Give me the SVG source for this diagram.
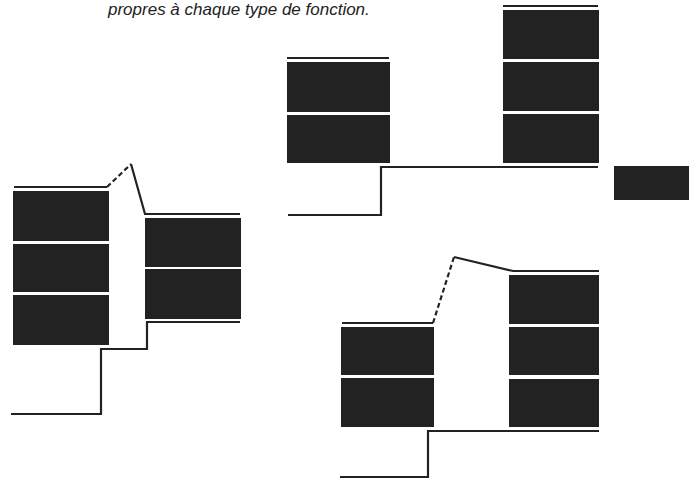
<svg xmlns="http://www.w3.org/2000/svg" width="695" height="479" viewBox="0 0 695 479">
<style>
.blk{fill:#222}
.ln{fill:none;stroke:#222;stroke-width:2.2;stroke-linejoin:miter}
.ds{fill:none;stroke:#222;stroke-width:2.2;stroke-dasharray:5 3}
.cap{font-family:"Liberation Sans",Arial,sans-serif;font-style:italic;font-size:17px;fill:#222}
</style>
<rect width="695" height="479" fill="#fff"/>
<text class="cap" x="108" y="14.5">propres à chaque type de fonction.</text>
<g id="stack-a">
<rect class="blk" x="13" y="191" width="96" height="50"/>
<rect class="blk" x="13" y="244" width="96" height="48"/>
<rect class="blk" x="13" y="295" width="96" height="50"/>
</g>
<g id="stack-b">
<rect class="blk" x="145" y="218" width="96" height="49"/>
<rect class="blk" x="145" y="269" width="96" height="50"/>
</g>
<g id="stack-c">
<rect class="blk" x="287" y="62" width="103" height="50"/>
<rect class="blk" x="287" y="115" width="103" height="48"/>
</g>
<g id="stack-d">
<rect class="blk" x="503" y="10" width="96" height="49"/>
<rect class="blk" x="503" y="62" width="96" height="49"/>
<rect class="blk" x="503" y="114" width="96" height="49"/>
</g>
<g id="stack-e">
<rect class="blk" x="341" y="327" width="93" height="48"/>
<rect class="blk" x="341" y="378" width="93" height="49"/>
</g>
<g id="stack-f">
<rect class="blk" x="509" y="275" width="90" height="49"/>
<rect class="blk" x="509" y="327" width="90" height="48"/>
<rect class="blk" x="509" y="379" width="90" height="48"/>
</g>
<g id="block-g">
<rect class="blk" x="614" y="166" width="75" height="34"/>
</g>
<g id="connectors">
<polyline class="ln" points="14,187 107,187"/>
<line class="ds" x1="107" y1="187" x2="131" y2="164"/>
<polyline class="ln" points="131,164 145,214 240,214"/>
<polyline class="ln" points="240,322 147,322 147,349 101,349 101,414 11,414"/>
<line class="ln" x1="287" y1="58" x2="389" y2="58"/>
<line class="ln" x1="503" y1="6" x2="598" y2="6"/>
<polyline class="ln" points="598,167 381,167 381,215 288,215"/>
<polyline class="ln" points="342,323 433,323"/>
<line class="ds" x1="433" y1="323" x2="454" y2="257"/>
<polyline class="ln" points="454,257 513,271 599,271"/>
<polyline class="ln" points="599,431 428,431 428,477 340,477"/>
</g>
</svg>
